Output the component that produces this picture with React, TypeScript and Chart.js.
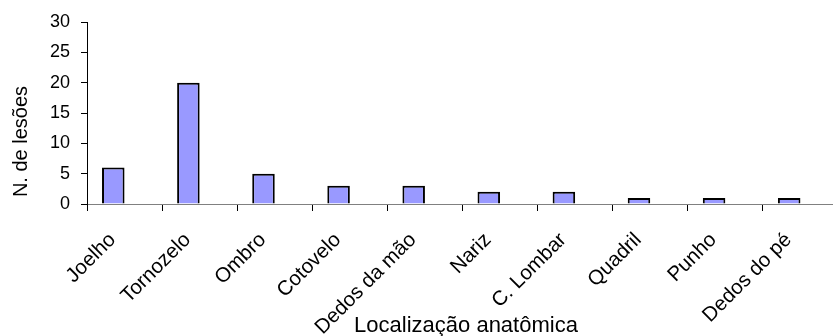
import React, { useEffect, useRef } from "react";
import { Chart, registerables } from "chart.js";

Chart.register(...registerables);

const categories = [
  "Joelho",
  "Tornozelo",
  "Ombro",
  "Cotovelo",
  "Dedos da mão",
  "Nariz",
  "C. Lombar",
  "Quadril",
  "Punho",
  "Dedos do pé",
];
const lesoes = [6, 20, 5, 3, 3, 2, 2, 1, 1, 1];
const emptySeries = [null, null, null, null, null, null, null, null, null, null];
const yTicks = [0, 5, 10, 15, 20, 25, 30];
const xTitle = "Localização anatômica";
const yTitle = "N. de lesões";

const FONT = "'Liberation Sans', Arial, Helvetica, sans-serif";

const axisTitlePlugin = {
  id: "axisTitlePlugin",
  afterDraw(chart: any) {
    const ctx = chart.ctx;
    const area = chart.chartArea;
    ctx.save();
    ctx.fillStyle = "#000";
    ctx.textAlign = "center";
    ctx.textBaseline = "alphabetic";
    ctx.font = `22px ${FONT}`;
    ctx.fillText(xTitle, (area.left + area.right) / 2 + 3.5, chart.height - 4.5);
    ctx.translate(26.5, 141.5);
    ctx.rotate(-Math.PI / 2);
    ctx.font = `20px ${FONT}`;
    ctx.fillText(yTitle, 0, 0);
    ctx.restore();
  },
};

export default function App() {
  const canvasRef = useRef<HTMLCanvasElement | null>(null);

  useEffect(() => {
    const canvas = canvasRef.current;
    if (!canvas) return;
    const chart = new Chart(canvas, {
      type: "bar",
      data: {
        labels: categories,
        datasets: [
          {
            data: lesoes,
            backgroundColor: "#9999FF",
            borderColor: "#000000",
            borderWidth: 2,
            categoryPercentage: 0.6,
            barPercentage: 1,
          },
          {
            data: emptySeries as any,
            backgroundColor: "#9999FF",
            borderColor: "#000000",
            borderWidth: 2,
            categoryPercentage: 0.6,
            barPercentage: 1,
          },
        ],
      },
      options: {
        responsive: false,
        animation: false,
        devicePixelRatio: 1,
        layout: { padding: { top: 22, right: 12, left: 0, bottom: 0 } },
        plugins: {
          legend: { display: false },
          tooltip: { enabled: false },
          title: { display: false },
        },
        scales: {
          x: {
            offset: true,
            border: { display: true, color: "#808080", width: 1 },
            grid: {
              display: true,
              offset: true,
              drawOnChartArea: false,
              drawTicks: true,
              tickLength: 7,
              tickColor: "#000000",
            },
            ticks: {
              autoSkip: false,
              minRotation: 45,
              maxRotation: 45,
              labelOffset: -12,
              padding: 17,
              color: "#000000",
              font: { family: FONT, size: 20.5 },
            },
            afterFit: (scale: any) => {
              scale.height = 132;
            },
          },
          y: {
            min: 0,
            max: 30,
            afterBuildTicks: (scale: any) => {
              scale.ticks = yTicks.map((v) => ({ value: v }));
            },
            border: { display: true, color: "#000000", width: 1 },
            grid: {
              display: true,
              drawOnChartArea: false,
              drawTicks: true,
              tickLength: 6,
              tickColor: "#000000",
            },
            ticks: {
              padding: 11,
              color: "#000000",
              font: { family: FONT, size: 18 },
            },
            afterFit: (scale: any) => {
              scale.width = 87;
            },
          },
        },
      },
      plugins: [axisTitlePlugin],
    });
    return () => chart.destroy();
  }, []);

  return (
    <div
      style={{
        position: "absolute",
        left: 0,
        top: 0,
        width: 833,
        height: 336,
        overflow: "hidden",
        background: "#ffffff",
      }}
    >
      <canvas
        ref={canvasRef}
        width={850}
        height={336}
        style={{ display: "block", width: 850, height: 336 }}
      />
    </div>
  );
}
